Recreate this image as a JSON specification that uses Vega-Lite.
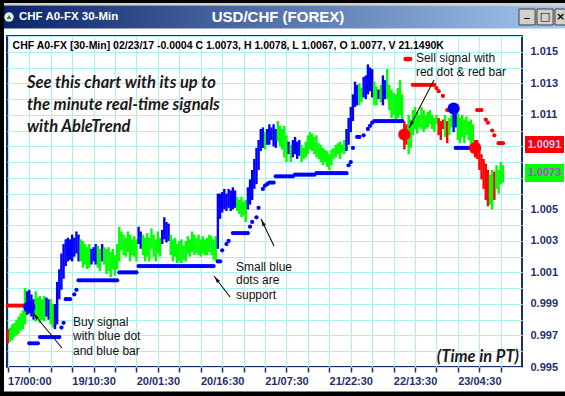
{
"$schema":"https://vega.github.io/schema/vega-lite/v6.json",
"width":515,"height":331,
"autosize":{"type":"none"},
"padding":{"left":7,"top":36,"right":43,"bottom":29},
"background":"white",
"config":{
 "view":{"stroke":"#1b2e6c","strokeWidth":2},
 "axis":{"labelFont":"Liberation Sans","labelFontWeight":"bold","labelFontSize":11,"labelColor":"#1f2e6e","gridColor":"#aaf0f0","gridWidth":1,"gridOpacity":1,"domain":false,"title":null,"labelOverlap":false,"labelFlush":false,"labelBound":false}
},
"datasets":{
"bars":[
{"t":-10,"p":0.9965,"h":0.9974,"c":"r"},{"t":-9,"p":0.9966,"h":0.9975,"c":"g"},{"t":-8,"p":0.9967,"h":0.9977,"c":"g"},{"t":-7,"p":0.9969,"h":0.9978,"c":"g"},{"t":-6,"p":0.997,"h":0.998,"c":"g"},{"t":-5,"p":0.9971,"h":0.9982,"c":"g"},{"t":-4,"p":0.9973,"h":0.9984,"c":"g"},{"t":-3,"p":0.9974,"h":0.9986,"c":"g"},{"t":-2,"p":0.9977,"h":1.0,"c":"g"},{"t":-1,"p":0.9983,"h":0.9998,"c":"b"},
{"t":0,"p":0.9984,"h":0.9999,"c":"b"},{"t":1,"p":0.9982,"h":0.9996,"c":"b"},{"t":2,"p":0.998,"h":0.9993,"c":"b"},{"t":3,"p":0.9979,"h":0.9998,"c":"g"},{"t":4,"p":0.9982,"h":0.9994,"c":"g"},{"t":5,"p":0.9978,"h":0.9995,"c":"g"},{"t":6,"p":0.998,"h":0.9993,"c":"g"},{"t":7,"p":0.9979,"h":0.9995,"c":"g"},{"t":8,"p":0.9982,"h":0.9994,"c":"b"},{"t":9,"p":0.998,"h":0.9993,"c":"b"},
{"t":10,"p":0.9977,"h":0.9993,"c":"g"},{"t":11,"p":0.9975,"h":0.999,"c":"g"},{"t":12,"p":0.9974,"h":0.999,"c":"b"},{"t":13,"p":0.9977,"h":1.0004,"c":"b"},{"t":14,"p":0.9993,"h":1.0012,"c":"b"},{"t":15,"p":0.9999,"h":1.0022,"c":"b"},{"t":16,"p":1.0006,"h":1.0028,"c":"b"},{"t":17,"p":1.0014,"h":1.0031,"c":"b"},{"t":18,"p":1.0017,"h":1.0032,"c":"b"},{"t":19,"p":1.0018,"h":1.0031,"c":"b"},
{"t":20,"p":1.0017,"h":1.0034,"c":"b"},{"t":21,"p":1.002,"h":1.0032,"c":"b"},{"t":22,"p":1.0022,"h":1.0036,"c":"b"},{"t":23,"p":1.0017,"h":1.0034,"c":"b"},{"t":24,"p":1.0017,"h":1.0031,"c":"g"},{"t":25,"p":1.0013,"h":1.003,"c":"g"},{"t":26,"p":1.0015,"h":1.0028,"c":"g"},{"t":27,"p":1.0012,"h":1.0026,"c":"g"},{"t":28,"p":1.0013,"h":1.0028,"c":"g"},{"t":29,"p":1.0015,"h":1.0025,"c":"b"},
{"t":30,"p":1.0017,"h":1.0026,"c":"b"},{"t":31,"p":1.0015,"h":1.0028,"c":"b"},{"t":32,"p":1.0013,"h":1.0027,"c":"g"},{"t":33,"p":1.0011,"h":1.0025,"c":"g"},{"t":34,"p":1.0017,"h":1.0028,"c":"b"},{"t":35,"p":1.0015,"h":1.0026,"c":"g"},{"t":36,"p":1.0009,"h":1.0025,"c":"g"},{"t":37,"p":1.0011,"h":1.0026,"c":"g"},{"t":38,"p":1.0007,"h":1.0023,"c":"g"},{"t":39,"p":1.0012,"h":1.0025,"c":"g"},
{"t":40,"p":1.0008,"h":1.0021,"c":"g"},{"t":41,"p":1.0012,"h":1.0028,"c":"g"},{"t":42,"p":1.0017,"h":1.0039,"c":"g"},{"t":43,"p":1.0024,"h":1.0036,"c":"g"},{"t":44,"p":1.0021,"h":1.0034,"c":"g"},{"t":45,"p":1.002,"h":1.0032,"c":"g"},{"t":46,"p":1.0023,"h":1.0036,"c":"g"},{"t":47,"p":1.0017,"h":1.0034,"c":"g"},{"t":48,"p":1.0021,"h":1.0031,"c":"g"},{"t":49,"p":1.002,"h":1.0033,"c":"g"},
{"t":50,"p":1.0017,"h":1.0031,"c":"g"},{"t":51,"p":1.0028,"h":1.0039,"c":"b"},{"t":52,"p":1.0025,"h":1.0036,"c":"b"},{"t":53,"p":1.0021,"h":1.0034,"c":"g"},{"t":54,"p":1.0017,"h":1.0032,"c":"g"},{"t":55,"p":1.002,"h":1.0035,"c":"g"},{"t":56,"p":1.0017,"h":1.0032,"c":"g"},{"t":57,"p":1.0025,"h":1.0038,"c":"g"},{"t":58,"p":1.002,"h":1.0034,"c":"g"},{"t":59,"p":1.0017,"h":1.0031,"c":"g"},
{"t":60,"p":1.0022,"h":1.0036,"c":"g"},{"t":61,"p":1.002,"h":1.0032,"c":"g"},{"t":62,"p":1.0028,"h":1.0037,"c":"b"},{"t":63,"p":1.0031,"h":1.0045,"c":"b"},{"t":64,"p":1.0029,"h":1.0042,"c":"b"},{"t":65,"p":1.003,"h":1.0041,"c":"b"},{"t":66,"p":1.0021,"h":1.0034,"c":"g"},{"t":67,"p":1.0017,"h":1.0031,"c":"g"},{"t":68,"p":1.002,"h":1.0032,"c":"g"},{"t":69,"p":1.0016,"h":1.0028,"c":"g"},
{"t":70,"p":1.0017,"h":1.003,"c":"g"},{"t":71,"p":1.0016,"h":1.0031,"c":"g"},{"t":72,"p":1.0018,"h":1.0027,"c":"g"},{"t":73,"p":1.0017,"h":1.003,"c":"g"},{"t":74,"p":1.0022,"h":1.0033,"c":"g"},{"t":75,"p":1.002,"h":1.0031,"c":"g"},{"t":76,"p":1.0023,"h":1.0036,"c":"g"},{"t":77,"p":1.0021,"h":1.0034,"c":"g"},{"t":78,"p":1.0022,"h":1.0032,"c":"g"},{"t":79,"p":1.0021,"h":1.0034,"c":"g"},
{"t":80,"p":1.002,"h":1.0031,"c":"g"},{"t":81,"p":1.0022,"h":1.0033,"c":"g"},{"t":82,"p":1.0021,"h":1.0031,"c":"g"},{"t":83,"p":1.0021,"h":1.0032,"c":"g"},{"t":84,"p":1.0023,"h":1.0034,"c":"g"},{"t":85,"p":1.0021,"h":1.0033,"c":"g"},{"t":86,"p":1.0018,"h":1.0031,"c":"g"},{"t":87,"p":1.0017,"h":1.0033,"c":"g"},{"t":88,"p":1.0025,"h":1.006,"c":"b"},{"t":89,"p":1.0044,"h":1.006,"c":"b"},
{"t":90,"p":1.0048,"h":1.0061,"c":"b"},{"t":91,"p":1.005,"h":1.0063,"c":"b"},{"t":92,"p":1.0049,"h":1.006,"c":"b"},{"t":93,"p":1.0051,"h":1.0063,"c":"b"},{"t":94,"p":1.0049,"h":1.0062,"c":"b"},{"t":95,"p":1.005,"h":1.0064,"c":"b"},{"t":96,"p":1.0051,"h":1.0062,"c":"b"},{"t":97,"p":1.0049,"h":1.0058,"c":"g"},{"t":98,"p":1.0047,"h":1.0056,"c":"g"},{"t":99,"p":1.0045,"h":1.0058,"c":"g"},
{"t":100,"p":1.0046,"h":1.0055,"c":"g"},{"t":101,"p":1.0042,"h":1.0056,"c":"g"},{"t":102,"p":1.005,"h":1.0064,"c":"b"},{"t":103,"p":1.0053,"h":1.0069,"c":"b"},{"t":104,"p":1.0056,"h":1.0075,"c":"b"},{"t":105,"p":1.0063,"h":1.0082,"c":"b"},{"t":106,"p":1.0066,"h":1.0089,"c":"b"},{"t":107,"p":1.0075,"h":1.0094,"c":"b"},{"t":108,"p":1.0087,"h":1.0101,"c":"b"},{"t":109,"p":1.0089,"h":1.0102,"c":"b"},
{"t":110,"p":1.0088,"h":1.0099,"c":"g"},{"t":111,"p":1.0091,"h":1.0101,"c":"b"},{"t":112,"p":1.0091,"h":1.0104,"c":"b"},{"t":113,"p":1.0094,"h":1.0102,"c":"b"},{"t":114,"p":1.009,"h":1.0104,"c":"b"},{"t":115,"p":1.0089,"h":1.0101,"c":"b"},{"t":116,"p":1.0093,"h":1.0106,"c":"g"},{"t":117,"p":1.009,"h":1.0103,"c":"g"},{"t":118,"p":1.0088,"h":1.0101,"c":"g"},{"t":119,"p":1.0083,"h":1.0103,"c":"g"},
{"t":120,"p":1.008,"h":1.0097,"c":"g"},{"t":121,"p":1.0085,"h":1.0093,"c":"b"},{"t":122,"p":1.008,"h":1.0091,"c":"g"},{"t":123,"p":1.0083,"h":1.0094,"c":"b"},{"t":124,"p":1.0085,"h":1.0096,"c":"b"},{"t":125,"p":1.0082,"h":1.0093,"c":"b"},{"t":126,"p":1.0084,"h":1.0094,"c":"b"},{"t":127,"p":1.008,"h":1.0091,"c":"g"},{"t":128,"p":1.0082,"h":1.0089,"c":"g"},{"t":129,"p":1.0083,"h":1.0093,"c":"g"},
{"t":130,"p":1.0085,"h":1.0097,"c":"g"},{"t":131,"p":1.0088,"h":1.0099,"c":"g"},{"t":132,"p":1.0087,"h":1.0098,"c":"g"},{"t":133,"p":1.0085,"h":1.0096,"c":"g"},{"t":134,"p":1.0083,"h":1.0097,"c":"g"},{"t":135,"p":1.0082,"h":1.0092,"c":"g"},{"t":136,"p":1.008,"h":1.0091,"c":"g"},{"t":137,"p":1.0078,"h":1.0089,"c":"g"},{"t":138,"p":1.008,"h":1.0088,"c":"g"},{"t":139,"p":1.0077,"h":1.0087,"c":"g"},
{"t":140,"p":1.0075,"h":1.0085,"c":"g"},{"t":141,"p":1.0078,"h":1.0088,"c":"g"},{"t":142,"p":1.0082,"h":1.0089,"c":"g"},{"t":143,"p":1.0083,"h":1.0091,"c":"g"},{"t":144,"p":1.0085,"h":1.0092,"c":"g"},{"t":145,"p":1.0082,"h":1.0093,"c":"g"},{"t":146,"p":1.0086,"h":1.0091,"c":"g"},{"t":147,"p":1.0085,"h":1.0094,"c":"g"},{"t":148,"p":1.0087,"h":1.0101,"c":"b"},{"t":149,"p":1.0091,"h":1.0108,"c":"b"},
{"t":150,"p":1.0099,"h":1.0115,"c":"b"},{"t":151,"p":1.0106,"h":1.0123,"c":"b"},{"t":152,"p":1.0115,"h":1.0131,"c":"b"},{"t":153,"p":1.0116,"h":1.0129,"c":"b"},{"t":154,"p":1.0116,"h":1.013,"c":"g"},{"t":155,"p":1.0118,"h":1.0127,"c":"g"},{"t":156,"p":1.0121,"h":1.0134,"c":"b"},{"t":157,"p":1.012,"h":1.0135,"c":"b"},{"t":158,"p":1.0123,"h":1.0142,"c":"b"},{"t":159,"p":1.0125,"h":1.014,"c":"b"},
{"t":160,"p":1.0121,"h":1.0139,"c":"b"},{"t":161,"p":1.0116,"h":1.0131,"c":"g"},{"t":162,"p":1.0116,"h":1.0128,"c":"g"},{"t":163,"p":1.012,"h":1.0126,"c":"b"},{"t":164,"p":1.0118,"h":1.0129,"c":"g"},{"t":165,"p":1.0116,"h":1.0135,"c":"b"},{"t":166,"p":1.012,"h":1.0132,"c":"b"},{"t":167,"p":1.012,"h":1.0139,"c":"g"},{"t":168,"p":1.0113,"h":1.0129,"c":"g"},{"t":169,"p":1.0108,"h":1.0126,"c":"g"},
{"t":170,"p":1.011,"h":1.0124,"c":"g"},{"t":171,"p":1.0105,"h":1.0123,"c":"g"},{"t":172,"p":1.0108,"h":1.0127,"c":"g"},{"t":173,"p":1.011,"h":1.0132,"c":"g"},{"t":174,"p":1.0105,"h":1.0123,"c":"g"},{"t":175,"p":1.0088,"h":1.0106,"c":"r"},{"t":176,"p":1.0091,"h":1.0104,"c":"r"},{"t":177,"p":1.0085,"h":1.011,"c":"g"},{"t":178,"p":1.0089,"h":1.0107,"c":"g"},{"t":179,"p":1.0097,"h":1.0113,"c":"g"},
{"t":180,"p":1.0101,"h":1.0115,"c":"g"},{"t":181,"p":1.0098,"h":1.0112,"c":"g"},{"t":182,"p":1.0102,"h":1.011,"c":"g"},{"t":183,"p":1.0101,"h":1.0115,"c":"g"},{"t":184,"p":1.0099,"h":1.0113,"c":"g"},{"t":185,"p":1.0101,"h":1.011,"c":"g"},{"t":186,"p":1.0102,"h":1.0112,"c":"g"},{"t":187,"p":1.0104,"h":1.0113,"c":"g"},{"t":188,"p":1.0101,"h":1.011,"c":"g"},{"t":189,"p":1.0099,"h":1.0108,"c":"g"},
{"t":190,"p":1.0104,"h":1.011,"c":"g"},{"t":191,"p":1.0097,"h":1.0108,"c":"r"},{"t":192,"p":1.0094,"h":1.0106,"c":"r"},{"t":193,"p":1.0101,"h":1.0107,"c":"r"},{"t":194,"p":1.0096,"h":1.011,"c":"g"},{"t":195,"p":1.0092,"h":1.0106,"c":"r"},{"t":196,"p":1.0097,"h":1.0108,"c":"g"},{"t":197,"p":1.0102,"h":1.011,"c":"g"},{"t":198,"p":1.0099,"h":1.0113,"c":"b"},{"t":199,"p":1.0102,"h":1.0112,"c":"b"},
{"t":200,"p":1.0094,"h":1.0111,"c":"g"},{"t":201,"p":1.0092,"h":1.0108,"c":"g"},{"t":202,"p":1.0096,"h":1.011,"c":"g"},{"t":203,"p":1.0092,"h":1.0107,"c":"g"},{"t":204,"p":1.0097,"h":1.0109,"c":"g"},{"t":205,"p":1.0094,"h":1.0106,"c":"g"},{"t":206,"p":1.0092,"h":1.0107,"c":"g"},{"t":207,"p":1.0093,"h":1.0104,"c":"g"},{"t":208,"p":1.0083,"h":1.0094,"c":"r"},{"t":209,"p":1.0082,"h":1.0094,"c":"r"},
{"t":210,"p":1.0075,"h":1.0088,"c":"r"},{"t":211,"p":1.0069,"h":1.0085,"c":"r"},{"t":212,"p":1.0063,"h":1.0082,"c":"r"},{"t":213,"p":1.0056,"h":1.0079,"c":"r"},{"t":214,"p":1.0052,"h":1.0075,"c":"r"},{"t":215,"p":1.0053,"h":1.0072,"c":"g"},{"t":216,"p":1.005,"h":1.0075,"c":"g"},{"t":217,"p":1.0056,"h":1.0074,"c":"r"},{"t":218,"p":1.0063,"h":1.0078,"c":"g"},{"t":219,"p":1.006,"h":1.0075,"c":"g"},
{"t":220,"p":1.0066,"h":1.008,"c":"g"},{"t":221,"p":1.0067,"h":1.0078,"c":"g"}
],
"dots":[
{"t":-10,"p":0.9989,"c":"r"},{"t":-9,"p":0.9989,"c":"r"},{"t":-8,"p":0.9989,"c":"r"},{"t":-7,"p":0.9989,"c":"r"},{"t":-6,"p":0.9989,"c":"r"},{"t":-5,"p":0.9989,"c":"r"},{"t":-4,"p":0.9989,"c":"r"},{"t":-3,"p":0.9989,"c":"r"},
{"t":0,"p":0.9965,"c":"b"},{"t":1,"p":0.9965,"c":"b"},{"t":2,"p":0.9965,"c":"b"},{"t":3,"p":0.9965,"c":"b"},{"t":4,"p":0.9965,"c":"b"},
{"t":5,"p":0.9969,"c":"b"},{"t":6,"p":0.9969,"c":"b"},{"t":7,"p":0.9969,"c":"b"},{"t":8,"p":0.9969,"c":"b"},{"t":9,"p":0.9969,"c":"b"},{"t":10,"p":0.9969,"c":"b"},{"t":11,"p":0.9969,"c":"b"},{"t":12,"p":0.9969,"c":"b"},{"t":13,"p":0.9969,"c":"b"},{"t":14,"p":0.9969,"c":"b"},
{"t":15,"p":0.9975,"c":"b"},{"t":16,"p":0.9978,"c":"b"},{"t":17,"p":0.9993,"c":"b"},{"t":18,"p":0.9993,"c":"b"},{"t":19,"p":0.9993,"c":"b"},{"t":21,"p":0.9996,"c":"b"},{"t":22,"p":0.9999,"c":"b"},
{"t":23,"p":1.0005,"c":"b"},{"t":24,"p":1.0005,"c":"b"},{"t":25,"p":1.0005,"c":"b"},{"t":26,"p":1.0005,"c":"b"},{"t":27,"p":1.0005,"c":"b"},{"t":28,"p":1.0005,"c":"b"},{"t":29,"p":1.0005,"c":"b"},{"t":30,"p":1.0005,"c":"b"},{"t":31,"p":1.0005,"c":"b"},{"t":32,"p":1.0005,"c":"b"},{"t":33,"p":1.0005,"c":"b"},{"t":34,"p":1.0005,"c":"b"},{"t":35,"p":1.0005,"c":"b"},{"t":36,"p":1.0005,"c":"b"},{"t":37,"p":1.0005,"c":"b"},{"t":38,"p":1.0005,"c":"b"},{"t":39,"p":1.0005,"c":"b"},{"t":40,"p":1.0005,"c":"b"},{"t":41,"p":1.0005,"c":"b"},
{"t":42,"p":1.001,"c":"b"},{"t":43,"p":1.001,"c":"b"},{"t":44,"p":1.001,"c":"b"},{"t":45,"p":1.001,"c":"b"},{"t":46,"p":1.001,"c":"b"},{"t":47,"p":1.001,"c":"b"},{"t":48,"p":1.001,"c":"b"},{"t":49,"p":1.001,"c":"b"},{"t":50,"p":1.001,"c":"b"},
{"t":51,"p":1.0014,"c":"b"},{"t":52,"p":1.0014,"c":"b"},{"t":53,"p":1.0014,"c":"b"},{"t":54,"p":1.0014,"c":"b"},{"t":55,"p":1.0014,"c":"b"},{"t":56,"p":1.0014,"c":"b"},{"t":57,"p":1.0014,"c":"b"},{"t":58,"p":1.0014,"c":"b"},{"t":59,"p":1.0014,"c":"b"},{"t":60,"p":1.0014,"c":"b"},{"t":61,"p":1.0014,"c":"b"},{"t":62,"p":1.0014,"c":"b"},{"t":63,"p":1.0014,"c":"b"},{"t":64,"p":1.0014,"c":"b"},{"t":65,"p":1.0014,"c":"b"},{"t":66,"p":1.0014,"c":"b"},{"t":67,"p":1.0014,"c":"b"},{"t":68,"p":1.0014,"c":"b"},{"t":69,"p":1.0014,"c":"b"},{"t":70,"p":1.0014,"c":"b"},{"t":71,"p":1.0014,"c":"b"},{"t":72,"p":1.0014,"c":"b"},{"t":73,"p":1.0014,"c":"b"},{"t":74,"p":1.0014,"c":"b"},{"t":75,"p":1.0014,"c":"b"},{"t":76,"p":1.0014,"c":"b"},{"t":77,"p":1.0014,"c":"b"},{"t":78,"p":1.0014,"c":"b"},{"t":79,"p":1.0014,"c":"b"},{"t":80,"p":1.0014,"c":"b"},{"t":81,"p":1.0014,"c":"b"},{"t":82,"p":1.0014,"c":"b"},{"t":83,"p":1.0014,"c":"b"},{"t":84,"p":1.0014,"c":"b"},{"t":85,"p":1.0014,"c":"b"},{"t":86,"p":1.0014,"c":"b"},
{"t":88,"p":1.0017,"c":"b"},{"t":89,"p":1.0017,"c":"b"},{"t":90,"p":1.0024,"c":"b"},{"t":92,"p":1.0028,"c":"b"},{"t":93,"p":1.003,"c":"b"},
{"t":95,"p":1.0035,"c":"b"},{"t":96,"p":1.0035,"c":"b"},{"t":97,"p":1.0035,"c":"b"},{"t":98,"p":1.0035,"c":"b"},{"t":99,"p":1.0035,"c":"b"},{"t":100,"p":1.0035,"c":"b"},{"t":101,"p":1.0035,"c":"b"},{"t":102,"p":1.0035,"c":"b"},
{"t":103,"p":1.0039,"c":"b"},{"t":104,"p":1.0042,"c":"b"},{"t":106,"p":1.0045,"c":"b"},{"t":107,"p":1.0051,"c":"b"},{"t":109,"p":1.0063,"c":"b"},{"t":110,"p":1.0065,"c":"b"},{"t":111,"p":1.0066,"c":"b"},{"t":112,"p":1.0067,"c":"b"},{"t":113,"p":1.0067,"c":"b"},{"t":114,"p":1.0067,"c":"b"},
{"t":115,"p":1.0071,"c":"b"},{"t":116,"p":1.0071,"c":"b"},{"t":117,"p":1.0071,"c":"b"},{"t":118,"p":1.0071,"c":"b"},{"t":119,"p":1.0071,"c":"b"},{"t":120,"p":1.0071,"c":"b"},{"t":121,"p":1.0071,"c":"b"},{"t":122,"p":1.0071,"c":"b"},{"t":123,"p":1.0071,"c":"b"},
{"t":124,"p":1.0072,"c":"b"},{"t":125,"p":1.0072,"c":"b"},{"t":126,"p":1.0072,"c":"b"},{"t":127,"p":1.0072,"c":"b"},{"t":128,"p":1.0072,"c":"b"},{"t":129,"p":1.0072,"c":"b"},{"t":130,"p":1.0072,"c":"b"},{"t":131,"p":1.0072,"c":"b"},{"t":132,"p":1.0072,"c":"b"},{"t":133,"p":1.0072,"c":"b"},
{"t":134,"p":1.0073,"c":"b"},{"t":135,"p":1.0073,"c":"b"},{"t":136,"p":1.0073,"c":"b"},{"t":137,"p":1.0073,"c":"b"},{"t":138,"p":1.0073,"c":"b"},{"t":139,"p":1.0073,"c":"b"},{"t":140,"p":1.0073,"c":"b"},{"t":141,"p":1.0073,"c":"b"},{"t":142,"p":1.0073,"c":"b"},{"t":143,"p":1.0073,"c":"b"},{"t":144,"p":1.0073,"c":"b"},{"t":145,"p":1.0073,"c":"b"},{"t":146,"p":1.0073,"c":"b"},{"t":147,"p":1.0073,"c":"b"},{"t":148,"p":1.0073,"c":"b"},
{"t":149,"p":1.0078,"c":"b"},{"t":150,"p":1.008,"c":"b"},{"t":151,"p":1.0089,"c":"b"},{"t":153,"p":1.0096,"c":"b"},{"t":154,"p":1.0096,"c":"b"},{"t":156,"p":1.0097,"c":"b"},{"t":158,"p":1.0101,"c":"b"},{"t":159,"p":1.0103,"c":"b"},{"t":160,"p":1.0105,"c":"b"},
{"t":161,"p":1.0106,"c":"b"},{"t":162,"p":1.0106,"c":"b"},{"t":163,"p":1.0106,"c":"b"},{"t":164,"p":1.0106,"c":"b"},{"t":165,"p":1.0106,"c":"b"},{"t":166,"p":1.0106,"c":"b"},{"t":167,"p":1.0106,"c":"b"},{"t":168,"p":1.0106,"c":"b"},{"t":169,"p":1.0106,"c":"b"},{"t":170,"p":1.0106,"c":"b"},{"t":171,"p":1.0106,"c":"b"},{"t":172,"p":1.0106,"c":"b"},{"t":173,"p":1.0106,"c":"b"},{"t":174,"p":1.0106,"c":"b"},
{"t":179,"p":1.0129,"c":"r"},{"t":180,"p":1.0129,"c":"r"},{"t":181,"p":1.0129,"c":"r"},{"t":182,"p":1.0129,"c":"r"},{"t":183,"p":1.0129,"c":"r"},{"t":184,"p":1.0129,"c":"r"},{"t":185,"p":1.0129,"c":"r"},{"t":186,"p":1.0129,"c":"r"},{"t":187,"p":1.0129,"c":"r"},{"t":188,"p":1.0129,"c":"r"},{"t":189,"p":1.0129,"c":"r"},
{"t":190,"p":1.0127,"c":"r"},{"t":191,"p":1.0125,"c":"r"},{"t":193,"p":1.0122,"c":"r"},{"t":195,"p":1.0113,"c":"r"},
{"t":199,"p":1.0089,"c":"b"},{"t":200,"p":1.0089,"c":"b"},{"t":201,"p":1.0089,"c":"b"},{"t":202,"p":1.0089,"c":"b"},{"t":203,"p":1.0089,"c":"b"},{"t":204,"p":1.0089,"c":"b"},{"t":205,"p":1.0089,"c":"b"},{"t":206,"p":1.0089,"c":"b"},{"t":207,"p":1.0089,"c":"b"},
{"t":209,"p":1.0113,"c":"r"},{"t":210,"p":1.0113,"c":"r"},{"t":211,"p":1.0113,"c":"r"},{"t":213,"p":1.0107,"c":"r"},{"t":214,"p":1.0105,"c":"r"},{"t":216,"p":1.01,"c":"r"},{"t":217,"p":1.0097,"c":"r"},{"t":219,"p":1.0092,"c":"r"},{"t":220,"p":1.0092,"c":"r"},{"t":221,"p":1.0092,"c":"r"}
],
"sig":[{"t":0,"p":0.9988,"c":"b"},{"t":175,"p":1.00975,"c":"r"},{"t":198,"p":1.0114,"c":"b"},{"t":208,"p":1.0089,"c":"r"}],
"chrome":[
{"t":-14,"t2":253,"p":1.01809,"p2":1.0186,"c":"k"},
{"t":-11.81,"t2":253,"p":1.017935,"p2":1.01809,"c":"s"},
{"t":-14,"t2":-11.81,"p":0.9925,"p2":1.0186,"c":"k"},
{"t":-14,"t2":253,"p":0.9925,"p2":0.993446,"c":"k"}
],
"tbar":[{"t":-11.81,"t2":253,"p":1.016476,"p2":1.017935}],
"btns":[{"t":228.5,"t2":236.0,"p":1.016698,"p2":1.017713},{"t":236.9,"t2":244.4,"p":1.016698,"p2":1.017713},{"t":245.3,"t2":252.8,"p":1.016698,"p2":1.017713}],
"btxt":[{"t":232.2,"p":1.01745,"txt":"_"},{"t":240.6,"p":1.01718,"txt":"□"},{"t":247.9,"p":1.01718,"txt":"×"}],
"icon":[{"t":-9.47,"p":1.0172}],
"ttl1":[{"t":-4.8,"p":1.017205,"txt":"CHF A0-FX 30-Min"}],
"ttl2":[{"t":116.05,"p":1.017205,"txt":"USD/CHF (FOREX)"}],
"hdr":[{"t":-7.79,"p":1.015334,"txt":"CHF A0-FX [30-Min] 02/23/17  -0.0004 C 1.0073, H 1.0078, L 1.0067, O 1.0077, V 21.1490K"}],
"promo":[{"t":-1.1,"p":1.013018,"txt":"See this chart with its up to"},{"t":-1.1,"p":1.011622,"txt":"the minute real-time signals"},{"t":-1.1,"p":1.010227,"txt":"with AbleTrend"}],
"notes":[
{"t":180.4,"p":1.014585,"txt":"Sell signal with"},{"t":180.4,"p":1.013697,"txt":"red dot & red bar"},
{"t":20.4,"p":0.997855,"txt":"Buy signal"},{"t":20.4,"p":0.996967,"txt":"with blue dot"},{"t":20.4,"p":0.996016,"txt":"and blue bar"},
{"t":96.45,"p":1.001344,"txt":"Small blue"},{"t":96.45,"p":1.00052,"txt":"dots are"},{"t":96.45,"p":0.999568,"txt":"support"}
],
"ptime":[{"t":228.5,"p":0.995634,"txt":"(Time in PT)"}],
"reddash":[{"t":175.6,"t2":177.7,"p":1.01454}],
"arrows":[
{"n":"sell","t":188.85,"p":1.013208,"t2":177.2,"p2":1.010163},
{"n":"buy","t":15.26,"p":0.996206,"t2":1.73,"p2":0.998426},
{"n":"s1","t":93.66,"p":0.999441,"t2":86.19,"p2":1.000773},
{"n":"s2","t":114.19,"p":1.002677,"t2":108.12,"p2":1.00439}
],
"heads":[
{"n":"sell","t":178.05,"p":1.010388},
{"n":"buy","t":2.92,"p":0.998231},
{"n":"s1","t":87.32,"p":1.000572},
{"n":"s2","t":108.93,"p":1.004161}
],
"tags":[{"t":231.3,"t2":249.5,"p":1.008577,"p2":1.009656,"c":"r"},{"t":231.3,"t2":249.5,"p":1.006737,"p2":1.007879,"c":"g"}],
"tagtxt":[{"t":240.4,"p":1.009085,"txt":"1.0091","c":"r"},{"t":240.4,"p":1.007308,"txt":"1.0073","c":"g"}]
},
"encoding":{
 "x":{"field":"t","type":"quantitative","scale":{"domain":[-10.4,229.9],"nice":false,"zero":false},
  "axis":{"values":[-10,0,10,20,30,40,50,60,70,80,90,100,110,120,130,140,150,160,170,180,190,200,210,220],
   "labelExpr":"datum.value==0?'17/00:00':datum.value==30?'19/10:30':datum.value==60?'20/01:30':datum.value==90?'20/16:30':datum.value==120?'21/07:30':datum.value==150?'21/22:30':datum.value==180?'22/13:30':datum.value==210?'23/04:30':''",
   "grid":true,"ticks":true,"tickColor":"#1b2e6c","tickSize":5,"tickWidth":1.5,"labelPadding":3}},
 "y":{"field":"p","type":"quantitative","scale":{"domain":[0.995,1.016],"nice":false,"zero":false},
  "axis":{"orient":"right","values":[0.995,0.996,0.997,0.998,0.999,1.0,1.001,1.002,1.003,1.004,1.005,1.006,1.007,1.008,1.009,1.01,1.011,1.012,1.013,1.014,1.015,1.016],
   "labelExpr":"indexof(['1.015','1.013','1.011','1.005','1.003','1.001','0.999','0.997','0.995'], format(datum.value,'.3f')) >= 0 ? format(datum.value,'.3f') : ''",
   "grid":true,"ticks":false,"labelPadding":8,"labelAlign":"left","labelBaseline":"middle"}}
},
"layer":[
 {"data":{"name":"chrome"},"mark":{"type":"rect"},"encoding":{"x2":{"field":"t2"},"y2":{"field":"p2"},"color":{"field":"c","type":"nominal","scale":{"domain":["g","b","r","k","s"],"range":["#00ff00","#0000ff","#ff0000","#000000","#d4d0c8"]},"legend":null}}},
 {"data":{"name":"tbar"},"mark":{"type":"rect","fill":{"x1":0,"y1":0,"x2":1,"y2":0,"gradient":"linear","stops":[{"offset":0,"color":"#0a246a"},{"offset":1,"color":"#a6caf0"}]}},"encoding":{"x2":{"field":"t2"},"y2":{"field":"p2"}}},
 {"data":{"name":"btns"},"mark":{"type":"rect","fill":"#d4d0c8","stroke":"#404040","strokeWidth":1},"encoding":{"x2":{"field":"t2"},"y2":{"field":"p2"}}},
 {"data":{"name":"btxt"},"mark":{"type":"text","font":"DejaVu Sans","fontWeight":"bold","fontSize":11,"color":"#000000","align":"center","baseline":"middle"},"encoding":{"text":{"field":"txt"}}},
 {"data":{"name":"icon"},"mark":{"type":"point","shape":"circle","filled":true,"size":90,"color":"#e6ece6","opacity":1}},
 {"data":{"name":"icon"},"mark":{"type":"point","shape":"triangle-up","filled":true,"size":22,"color":"#2e8b2e","opacity":1}},
 {"data":{"name":"ttl1"},"mark":{"type":"text","font":"Liberation Sans","fontWeight":"bold","fontSize":11.5,"color":"white","align":"left","baseline":"middle"},"encoding":{"text":{"field":"txt"}}},
 {"data":{"name":"ttl2"},"mark":{"type":"text","font":"Liberation Sans","fontWeight":"bold","fontSize":15,"color":"white","align":"center","baseline":"middle"},"encoding":{"text":{"field":"txt"}}},
 {"data":{"name":"bars"},"mark":{"type":"rule","strokeWidth":2.4},"encoding":{"y2":{"field":"h"},"color":{"field":"c","type":"nominal","legend":null}}},
 {"data":{"name":"dots"},"mark":{"type":"point","shape":"circle","filled":true,"size":18,"opacity":1},"encoding":{"color":{"field":"c","type":"nominal","legend":null}}},
 {"data":{"name":"sig"},"mark":{"type":"point","shape":"circle","filled":true,"size":150,"opacity":1},"encoding":{"color":{"field":"c","type":"nominal","legend":null}}},
 {"data":{"name":"arrows"},"mark":{"type":"rule","color":"#111111","strokeWidth":1.1},"encoding":{"x2":{"field":"t2"},"y2":{"field":"p2"}}},
 {"data":{"name":"heads"},"transform":[{"filter":"datum.n=='sell'"}],"mark":{"type":"point","shape":"M0,-1L0.55,1L-0.55,1Z","filled":true,"size":45,"color":"#111111","opacity":1,"angle":207.5}},
 {"data":{"name":"heads"},"transform":[{"filter":"datum.n=='buy'"}],"mark":{"type":"point","shape":"M0,-1L0.55,1L-0.55,1Z","filled":true,"size":45,"color":"#111111","opacity":1,"angle":320.4}},
 {"data":{"name":"heads"},"transform":[{"filter":"datum.n=='s1'"}],"mark":{"type":"point","shape":"M0,-1L0.55,1L-0.55,1Z","filled":true,"size":45,"color":"#111111","opacity":1,"angle":322.7}},
 {"data":{"name":"heads"},"transform":[{"filter":"datum.n=='s2'"}],"mark":{"type":"point","shape":"M0,-1L0.55,1L-0.55,1Z","filled":true,"size":45,"color":"#111111","opacity":1,"angle":334.3}},
 {"data":{"name":"reddash"},"mark":{"type":"rule","color":"#ff0000","strokeWidth":4.5,"strokeCap":"round"},"encoding":{"x2":{"field":"t2"}}},
 {"data":{"name":"hdr"},"mark":{"type":"text","font":"Liberation Sans","fontWeight":"bold","fontSize":10.5,"color":"#000000","align":"left","baseline":"middle"},"encoding":{"text":{"field":"txt"}}},
 {"data":{"name":"promo"},"mark":{"type":"text","font":"Lato","fontWeight":"bold","fontStyle":"italic","fontSize":16.5,"color":"#1a1a1a","align":"left","baseline":"middle"},"encoding":{"text":{"field":"txt"}}},
 {"data":{"name":"ptime"},"mark":{"type":"text","font":"Lato","fontWeight":"bold","fontStyle":"italic","fontSize":16.5,"color":"#1a1a1a","align":"right","baseline":"middle"},"encoding":{"text":{"field":"txt"}}},
 {"data":{"name":"notes"},"mark":{"type":"text","font":"Liberation Sans","fontSize":12,"color":"#111111","align":"left","baseline":"middle"},"encoding":{"text":{"field":"txt"}}},
 {"data":{"name":"tags"},"mark":{"type":"rect"},"encoding":{"x2":{"field":"t2"},"y2":{"field":"p2"},"color":{"field":"c","type":"nominal","legend":null}}},
 {"data":{"name":"tagtxt"},"transform":[{"filter":"datum.c=='r'"}],"mark":{"type":"text","font":"Liberation Sans","fontWeight":"bold","fontSize":11,"color":"#b8ccff","align":"center","baseline":"middle"},"encoding":{"text":{"field":"txt"}}},
 {"data":{"name":"tagtxt"},"transform":[{"filter":"datum.c=='g'"}],"mark":{"type":"text","font":"Liberation Sans","fontWeight":"bold","fontSize":11,"color":"#c040e0","align":"center","baseline":"middle"},"encoding":{"text":{"field":"txt"}}}
]
}
